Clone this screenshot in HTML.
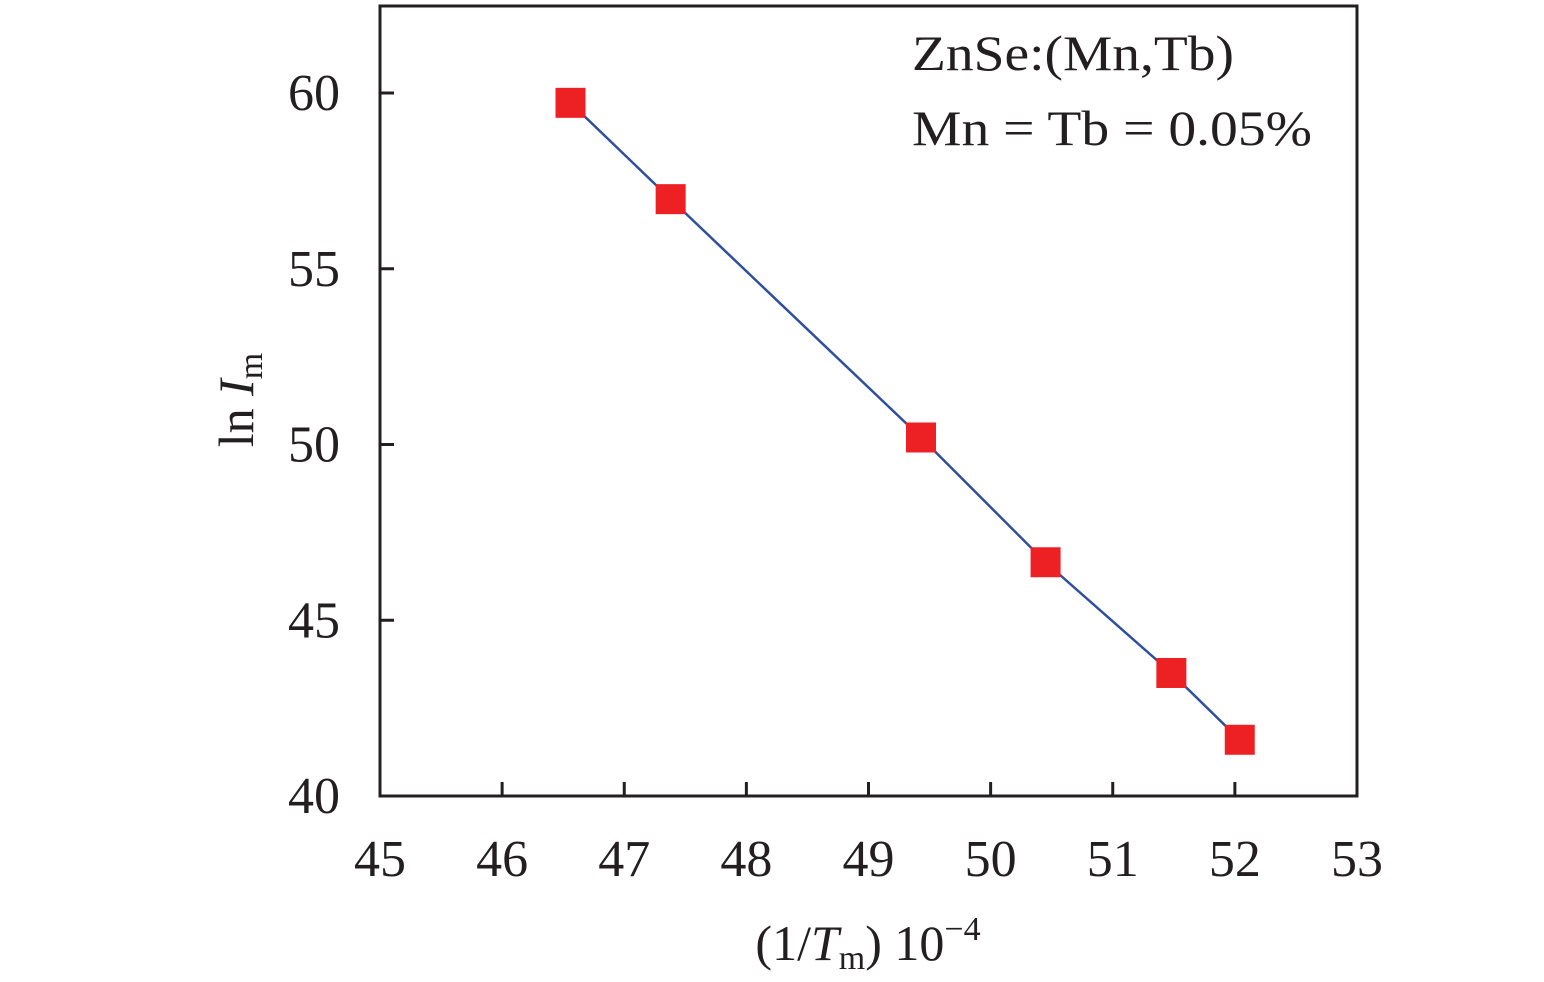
<!DOCTYPE html>
<html><head><meta charset="utf-8"><style>
body{margin:0;background:#fff}
svg{display:block;font-family:"Liberation Serif",serif}
</style></head><body>
<svg id="c" width="1544" height="982">
<rect x="380" y="6" width="977" height="790" fill="none" stroke="#231f20" stroke-width="3"/>
<g id="ticks"></g>
<polyline id="line" fill="none" stroke="#2e4f9e" stroke-width="2.5"/>
<g id="pts"></g>
<text x="912" y="70" font-size="50" textLength="322" lengthAdjust="spacingAndGlyphs" fill="#231f20">ZnSe:(Mn,Tb)</text>
<text x="912" y="145" font-size="50" textLength="400" lengthAdjust="spacingAndGlyphs" fill="#231f20">Mn = Tb = 0.05%</text>
<text x="868" y="960" font-size="50" text-anchor="middle" fill="#231f20">(1/<tspan font-style="italic">T</tspan><tspan font-size="34" dy="9">m</tspan><tspan dy="-9">) 10</tspan><tspan font-size="34" dy="-20">−4</tspan></text>
<text transform="translate(253,400) rotate(-90)" font-size="50" text-anchor="middle" fill="#231f20">ln <tspan font-style="italic">I</tspan><tspan font-size="34" dy="9">m</tspan></text>
</svg>
<script>
const xVals=[46.56,47.38,49.43,50.45,51.48,52.04];
const yVals=[59.72,56.98,50.2,46.65,43.5,41.6];
const xTicks=[45,46,47,48,49,50,51,52,53];
const yTicks=[40,45,50,55,60];
const X=v=>380+(v-45)*977/8;
const Y=v=>796-(v-40)*35.15;
const ns="http://www.w3.org/2000/svg";
const tg=document.getElementById('ticks');
function mk(t,a,p){const e=document.createElementNS(ns,t);for(const k in a)e.setAttribute(k,a[k]);p.appendChild(e);return e;}
xTicks.forEach(v=>{
 if(v>45&&v<53){const l=mk('line',{x1:X(v),x2:X(v),y1:796,y2:782,stroke:'#231f20','stroke-width':3},tg);
 
 }
 const t=mk('text',{x:X(v),y:876,'font-size':52,'text-anchor':'middle',fill:'#231f20'},tg);t.textContent=v;
 
 
});
yTicks.forEach(v=>{
 if(v>40){const l=mk('line',{x1:380,x2:394,y1:Y(v),y2:Y(v),stroke:'#231f20','stroke-width':3},tg);
 
 }
 const t=mk('text',{x:340,y:Y(v)+17,'font-size':52,'text-anchor':'end',fill:'#231f20'},tg);t.textContent=v;
 
 
});
document.getElementById('line').setAttribute('points',xVals.map((x,i)=>X(x)+','+Y(yVals[i])).join(' '));
const pg=document.getElementById('pts');
xVals.forEach((x,i)=>{
 const r=mk('rect',{x:X(x)-15,y:Y(yVals[i])-15,width:30,height:30,fill:'#ed2024'},pg);
 
 
});
</script>
</body></html>
